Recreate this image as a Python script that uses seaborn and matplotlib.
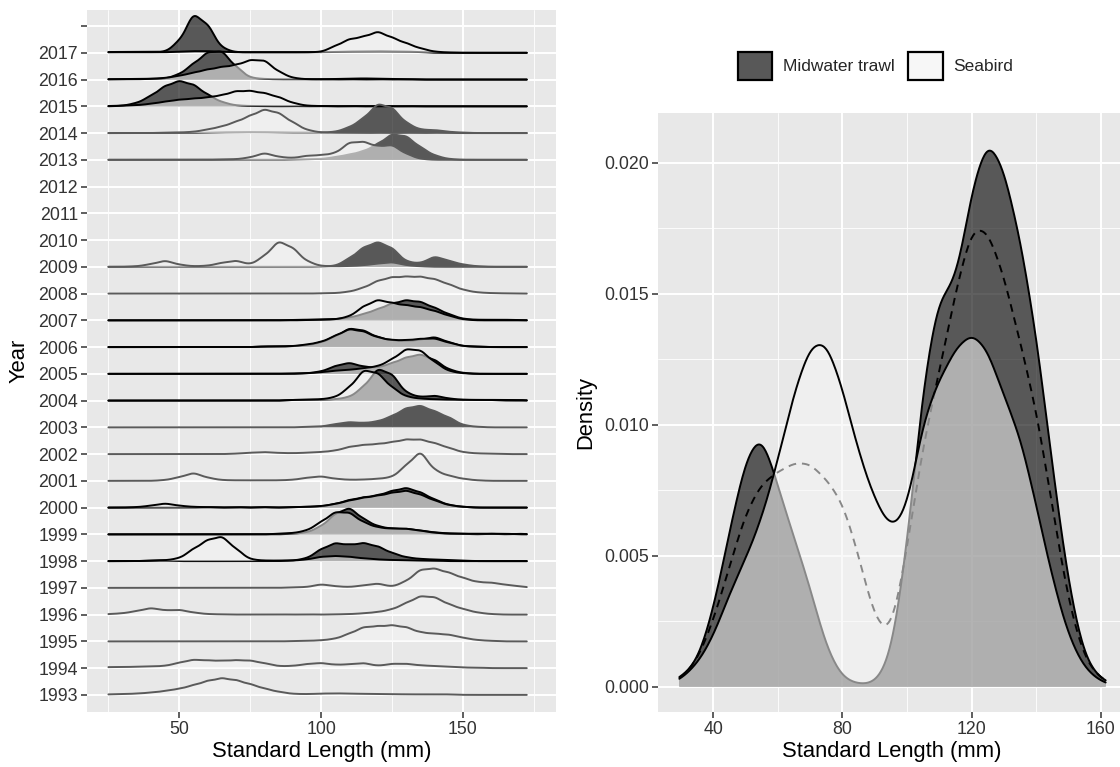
import numpy as np
import matplotlib.pyplot as plt
import matplotlib.transforms as mtransforms
from matplotlib.patches import Patch
from matplotlib.ticker import FormatStrFormatter
import seaborn as sns

# --- length-frequency counts per 5 mm bin ---
# left panel: one entry per year and gear
midwater_counts = {
    2017: {25: 3, 30: 3, 35: 3, 40: 3, 45: 3, 50: 40, 55: 140, 60: 100, 65: 16, 70: 2, 75: 2, 80: 2, 85: 2, 90: 2,
           95: 2, 100: 2, 105: 3, 110: 4, 115: 5, 120: 5, 125: 5, 130: 4, 135: 3},
    2016: {25: 1, 30: 2, 35: 2, 40: 3, 45: 3, 50: 18, 55: 55, 60: 95, 65: 100, 70: 44, 75: 6, 80: 2, 85: 1, 90: 1,
           95: 1, 100: 1, 105: 2, 110: 3, 115: 4, 120: 3, 125: 2, 130: 1},
    2015: {25: 1, 30: 2, 35: 11, 40: 36, 45: 70, 50: 88, 55: 75, 60: 40, 65: 14, 70: 3, 75: 1, 80: 1, 90: 1, 100: 1,
           110: 1, 120: 1, 130: 1},
    2014: {60: 2, 65: 3, 70: 4, 75: 4, 80: 4, 85: 3, 90: 2, 95: 2, 100: 2, 105: 5, 110: 24, 115: 62, 120: 125,
           125: 108, 130: 42, 135: 14, 140: 13, 145: 5, 150: 2},
    2013: {90: 1, 95: 2, 100: 3, 105: 10, 110: 20, 115: 32, 120: 60, 125: 98, 130: 90, 135: 48, 140: 16, 145: 3},
    2009: {100: 1, 105: 3, 110: 30, 115: 70, 120: 90, 125: 68, 130: 18, 135: 12, 140: 38, 145: 22, 150: 8, 155: 2},
    2007: {90: 2, 95: 2, 100: 3, 105: 4, 110: 10, 115: 22, 120: 40, 125: 60, 130: 72, 135: 66, 140: 45, 145: 22,
           150: 5, 155: 2, 160: 2, 165: 2, 170: 1},
    2006: {80: 2, 85: 2, 90: 3, 95: 6, 100: 15, 105: 35, 110: 62, 115: 55, 120: 32, 125: 22, 130: 20, 135: 24,
           140: 34, 145: 16, 150: 3, 155: 2},
    2005: {95: 2, 100: 8, 105: 28, 110: 40, 115: 25, 120: 22, 125: 38, 130: 58, 135: 70, 140: 50, 145: 15, 150: 3},
    2004: {90: 2, 95: 2, 100: 2, 105: 4, 110: 10, 115: 40, 120: 95, 125: 78, 130: 22, 135: 10, 140: 15, 145: 6,
           150: 2, 155: 2, 160: 2, 165: 2, 170: 2},
    2003: {95: 2, 100: 3, 105: 12, 110: 20, 115: 16, 120: 22, 125: 42, 130: 72, 135: 82, 140: 60, 145: 38, 150: 8,
           155: 2},
    2000: {60: 2, 70: 2, 80: 2, 90: 2, 95: 3, 100: 5, 105: 14, 110: 30, 115: 40, 120: 48, 125: 65, 130: 78, 135: 60,
           140: 32, 145: 10, 150: 3},
    1999: {90: 2, 95: 6, 100: 25, 105: 65, 110: 85, 115: 48, 120: 25, 125: 18, 130: 18, 135: 12, 140: 6, 145: 3,
           150: 2, 160: 2, 170: 2},
    1998: {40: 2, 45: 2, 90: 2, 95: 10, 100: 45, 105: 68, 110: 60, 115: 68, 120: 55, 125: 30, 130: 14, 135: 8,
           140: 6, 145: 4, 150: 2},
}

seabird_counts = {
    2017: {25: 2, 30: 2, 35: 2, 40: 2, 45: 2, 50: 4, 55: 6, 60: 6, 65: 4, 70: 2, 75: 2, 80: 2, 85: 2, 90: 2, 95: 2,
           100: 3, 105: 25, 110: 50, 115: 58, 120: 78, 125: 55, 130: 35, 135: 16, 140: 4, 145: 1},
    2016: {25: 1, 30: 1, 35: 1, 40: 2, 45: 5, 50: 12, 55: 22, 60: 32, 65: 40, 70: 46, 75: 62, 80: 62, 85: 25, 90: 5,
           95: 1, 100: 1, 110: 1, 120: 1, 130: 1},
    2015: {30: 2, 35: 4, 40: 9, 45: 17, 50: 24, 55: 28, 60: 32, 65: 40, 70: 55, 75: 56, 80: 48, 85: 34, 90: 12,
           95: 2, 100: 1, 110: 1, 120: 1},
    2014: {45: 2, 50: 2, 55: 4, 60: 12, 65: 22, 70: 38, 75: 58, 80: 80, 85: 68, 90: 36, 95: 10, 100: 2, 105: 1,
           110: 1, 120: 1, 130: 1, 140: 1},
    2013: {65: 1, 70: 2, 75: 8, 80: 24, 85: 10, 90: 6, 95: 14, 100: 16, 105: 22, 110: 60, 115: 62, 120: 45, 125: 52,
           130: 20, 135: 3},
    2009: {35: 2, 40: 10, 45: 24, 50: 8, 55: 2, 60: 4, 65: 15, 70: 24, 75: 8, 80: 40, 85: 98, 90: 72, 95: 20,
           100: 3, 105: 2, 110: 3, 115: 6, 120: 12, 125: 18, 130: 6, 135: 2},
    2008: {100: 1, 105: 2, 110: 8, 115: 25, 120: 55, 125: 70, 130: 72, 135: 72, 140: 62, 145: 40, 150: 16, 155: 5,
           160: 2, 165: 1},
    2007: {95: 1, 100: 2, 105: 3, 110: 12, 115: 45, 120: 66, 125: 55, 130: 48, 135: 42, 140: 30, 145: 15, 150: 3},
    2006: {80: 2, 85: 2, 90: 3, 95: 8, 100: 16, 105: 36, 110: 58, 115: 50, 120: 30, 125: 22, 130: 22, 135: 26,
           140: 28, 145: 14, 150: 3, 155: 1},
    2005: {90: 2, 95: 2, 100: 6, 105: 12, 110: 15, 115: 22, 120: 28, 125: 55, 130: 95, 135: 90, 140: 45, 145: 10,
           150: 2},
    2004: {90: 2, 95: 3, 100: 4, 105: 10, 110: 40, 115: 95, 120: 85, 125: 40, 130: 12, 135: 6, 140: 4, 145: 3,
           150: 2, 155: 2, 160: 2},
    2002: {70: 2, 75: 6, 80: 9, 85: 5, 90: 4, 95: 6, 100: 9, 105: 15, 110: 32, 115: 40, 120: 44, 125: 52, 130: 64,
           135: 64, 140: 48, 145: 28, 150: 8, 155: 3, 160: 2},
    2001: {45: 3, 50: 14, 55: 32, 60: 12, 65: 3, 70: 2, 75: 2, 80: 2, 85: 2, 90: 4, 95: 12, 100: 18, 105: 8, 110: 4,
           115: 5, 120: 8, 125: 14, 130: 60, 135: 118, 140: 40, 145: 20, 150: 8, 155: 2},
    2000: {35: 2, 40: 8, 45: 18, 50: 8, 55: 3, 60: 2, 70: 2, 80: 2, 90: 2, 95: 3, 100: 6, 105: 15, 110: 30, 115: 42,
           120: 50, 125: 62, 130: 72, 135: 55, 140: 30, 145: 10, 150: 3},
    1999: {85: 2, 90: 4, 95: 12, 100: 40, 105: 72, 110: 70, 115: 38, 120: 22, 125: 18, 130: 18, 135: 12, 140: 5,
           145: 2, 150: 2, 155: 2, 160: 2, 165: 2},
    1998: {40: 2, 45: 3, 50: 10, 55: 45, 60: 78, 65: 92, 70: 45, 75: 6, 80: 2, 85: 2, 90: 2, 95: 6, 100: 16, 105: 19,
           110: 16, 115: 10, 120: 6, 125: 4, 130: 3, 135: 2, 140: 2},
    1997: {90: 2, 95: 3, 100: 14, 105: 6, 110: 3, 115: 10, 120: 17, 125: 4, 130: 25, 135: 70, 140: 74, 145: 58,
           150: 38, 155: 22, 160: 20, 165: 12, 170: 6},
    1996: {25: 2, 30: 5, 35: 14, 40: 26, 45: 16, 50: 19, 55: 8, 60: 2, 65: 1, 75: 1, 85: 1, 95: 1, 105: 1, 110: 2,
           115: 5, 120: 10, 125: 20, 130: 45, 135: 72, 140: 68, 145: 40, 150: 22, 155: 8, 160: 2},
    1995: {90: 1, 95: 2, 100: 4, 105: 10, 110: 30, 115: 55, 120: 58, 125: 62, 130: 55, 135: 34, 140: 30, 145: 26,
           150: 14, 155: 5, 160: 2},
    1994: {25: 4, 30: 4, 35: 5, 40: 6, 45: 8, 50: 20, 55: 31, 60: 28, 65: 27, 70: 29, 75: 28, 80: 18, 85: 7, 90: 8,
           95: 15, 100: 19, 105: 12, 110: 14, 115: 19, 120: 8, 125: 16, 130: 16, 135: 10, 140: 8, 145: 5, 150: 2,
           155: 2},
    1993: {25: 2, 30: 3, 35: 5, 40: 9, 45: 15, 50: 24, 55: 38, 60: 55, 65: 66, 70: 58, 75: 42, 80: 25, 85: 12,
           90: 4, 95: 3, 100: 5, 105: 6, 110: 5, 115: 4, 120: 4, 125: 3, 130: 2, 135: 2, 140: 2, 145: 2},
}

# years whose ridge outlines are black (the rest are dark grey)
black_outline_years = [2017, 2016, 2015, 2007, 2006, 2005, 2004, 2000, 1999, 1998]
year_ticks = list(range(1993, 2019))
year_labels = [str(y) for y in range(1993, 2018)] + ['']

# right panel: all years pooled
midwater_all = {30: 4, 35: 9, 40: 30, 45: 62, 50: 92, 55: 104, 60: 80, 65: 60, 70: 40, 75: 15, 80: 3, 85: 1,
                90: 1, 95: 10, 100: 55, 105: 122, 110: 160, 115: 158, 120: 200, 125: 222, 130: 208, 135: 180,
                140: 142, 145: 88, 150: 40, 155: 10, 160: 3}
seabird_all = {30: 3, 35: 9, 40: 20, 45: 38, 50: 52, 55: 68, 60: 92, 65: 120, 70: 140, 75: 142, 80: 122, 85: 95,
               90: 76, 95: 63, 100: 70, 105: 110, 110: 125, 115: 138, 120: 145, 125: 138, 130: 118, 135: 103,
               140: 74, 145: 44, 150: 20, 155: 7, 160: 2}
combined_all = {30: 3, 35: 10, 40: 26, 45: 48, 50: 70, 55: 82, 60: 86, 65: 90, 70: 90, 75: 83, 80: 75, 85: 53,
                90: 26, 95: 18, 100: 55, 105: 98, 110: 126, 115: 158, 120: 186, 125: 184, 130: 165, 135: 138,
                140: 112, 145: 72, 150: 33, 155: 10, 160: 3}

MW_FILL = (0, 0, 0, 0.62)
SB_FILL = (0.965, 0.965, 0.965, 0.556)
GREY_LINE = '#5a5a5a'
RIDGE_HEIGHT = 19   # year units per unit of density


def draw_kde(ax, counts, bw, clip, face=None, edge=None, lw=1.4, ls='-', z=2, shift=None):
    x = list(counts.keys())
    w = list(counts.values())
    sd = np.sqrt(np.cov(x, aweights=w))
    kws = dict(x=x, weights=w, bw_method=bw / sd, clip=clip, cut=100, gridsize=500, ax=ax)
    new = []
    if face is not None:
        n0 = len(ax.collections)
        sns.kdeplot(fill=True, facecolor=face, edgecolor='none', linewidth=0, zorder=z, **kws)
        new += ax.collections[n0:]
    if edge is not None:
        n0 = len(ax.lines)
        sns.kdeplot(color=edge, linewidth=lw, linestyle=ls, zorder=z + 0.5, **kws)
        new += ax.lines[n0:]
    if shift is not None:
        tr = mtransforms.Affine2D().scale(1, RIDGE_HEIGHT).translate(0, shift) + ax.transData
        for art in new:
            art.set_transform(tr)


sns.set_theme(style='darkgrid', rc={
    'axes.facecolor': '#E8E8E8',
    'grid.color': 'white',
    'grid.linewidth': 1.4,
    'xtick.bottom': True,
    'ytick.left': True,
    'xtick.major.size': 4,
    'ytick.major.size': 4,
    'xtick.major.width': 1.1,
    'ytick.major.width': 1.1,
    'xtick.major.pad': 2.5,
    'ytick.major.pad': 2.5,
    'xtick.color': '#333333',
    'ytick.color': '#333333',
})
plt.rcParams['font.family'] = ['Liberation Sans', 'DejaVu Sans']

fig = plt.figure(figsize=(11.2, 7.67), dpi=100)
H = 767
W = 1120
ax1 = fig.add_axes([87 / W, (H - 712) / H, 469 / W, 702 / H])
ax2 = fig.add_axes([658 / W, (H - 712) / H, 469 / W, 599 / H])

# ---- left: ridgelines by year ----
for year in sorted(set(midwater_counts) | set(seabird_counts), reverse=True):
    z = (2018 - year) * 2 + 2
    edge = 'black' if year in black_outline_years else GREY_LINE
    if year in midwater_counts:
        draw_kde(ax1, midwater_counts[year], 2.5, (25, 172.5), face=MW_FILL, edge=edge, z=z, shift=year)
    if year in seabird_counts:
        draw_kde(ax1, seabird_counts[year], 2.5, (25, 172.5), face=SB_FILL, edge=edge, z=z + 1, shift=year)

ax1.set_xlim(17.45, 182.8)
ax1.set_ylim(1992.36, 2018.6)
ax1.set_xticks([50, 100, 150])
ax1.set_xticks([25, 75, 125, 175], minor=True)
ax1.set_yticks(year_ticks)
ax1.set_yticklabels(year_labels)
ax1.grid(which='minor', axis='x', color='white', linewidth=0.6)
ax1.tick_params(which='minor', length=0)
ax1.tick_params(labelsize=12.8)
ax1.set_xlabel('')
ax1.set_ylabel('')

# ---- right: pooled densities ----
draw_kde(ax2, midwater_all, 3.3, (29.5, 161.5), face=MW_FILL, edge='black', z=2)
draw_kde(ax2, combined_all, 3.3, (29.5, 161.5), edge='black', lw=1.4, ls=(0, (4, 3)), z=3)
draw_kde(ax2, seabird_all, 3.3, (29.5, 161.5), face=SB_FILL, edge='black', z=4)

ax2.set_xlim(22.9, 168.1)
ax2.set_ylim(-0.000965, 0.0219)
ax2.set_xticks([40, 80, 120, 160])
ax2.set_xticks([60, 100, 140], minor=True)
ax2.set_yticks([0, 0.005, 0.010, 0.015, 0.020])
ax2.set_yticks([0.0025, 0.0075, 0.0125, 0.0175], minor=True)
ax2.yaxis.set_major_formatter(FormatStrFormatter('%.3f'))
ax2.grid(which='minor', color='white', linewidth=0.6)
ax2.tick_params(which='minor', length=0)
ax2.tick_params(labelsize=12.8)
ax2.set_xlabel('')
ax2.set_ylabel('')

for a in (ax1, ax2):
    for s in a.spines.values():
        s.set_visible(False)

# axis titles
fig.text(18.8 / W, 1 - 361 / H, 'Year', rotation=90, ha='center', va='center', fontsize=15.8, color='black')
fig.text(321.5 / W, 1 - 751 / H, 'Standard Length (mm)', ha='center', va='center', fontsize=15.8, color='black')
fig.text(892 / W, 1 - 751 / H, 'Standard Length (mm)', ha='center', va='center', fontsize=15.8, color='black')
fig.text(586 / W, 1 - 412.5 / H, 'Density', rotation=90, ha='center', va='center', fontsize=15.8, color='black')

handles = [Patch(facecolor='#585858', edgecolor='black', linewidth=1.6),
           Patch(facecolor='#F7F7F7', edgecolor='black', linewidth=1.6)]
fig.legend(handles, ['Midwater trawl', 'Seabird'], loc='center', bbox_to_anchor=(875.5 / W, 1 - 66 / H),
           ncol=2, frameon=False, fontsize=12.5, handlelength=2.0, handleheight=2.05,
           handletextpad=0.63, columnspacing=0.75)

plt.savefig('out.png', dpi=100)
